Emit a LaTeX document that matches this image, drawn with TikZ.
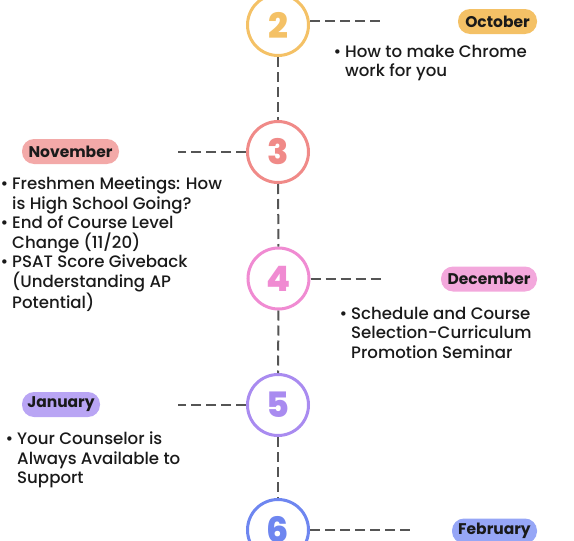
\documentclass[tikz,border=0pt]{standalone}
\usepackage{fontspec}
\setmainfont{Poppins}[UprightFont={* Medium}, BoldFont={* Bold}]
\newfontfamily\numfont{Poppins}[UprightFont={* ExtraBold}]
\definecolor{txt}{HTML}{1A1A1A}
\definecolor{dashc}{HTML}{555555}
\definecolor{oct}{HTML}{F4C166}
\definecolor{octpill}{HTML}{F4C166}
\definecolor{nov}{HTML}{F08A88}
\definecolor{novpill}{HTML}{F3A9A8}
\definecolor{dec}{HTML}{F08BD2}
\definecolor{decpill}{HTML}{F3A8DC}
\definecolor{jan}{HTML}{A98BF0}
\definecolor{janpill}{HTML}{B9A5F4}
\definecolor{feb}{HTML}{6E86F0}
\definecolor{febpill}{HTML}{96A6F6}
\tikzset{
  stepcirc/.style={circle, draw=#1, line width=3pt, fill=white, minimum size=61pt, inner sep=0pt,
    text=#1, font=\fontsize{35}{35}\selectfont\numfont},
  pill/.style={rounded corners=12pt, fill=#1, minimum height=25pt, inner sep=0pt,
    text=txt, font=\fontsize{15.5}{15.5}\selectfont\bfseries},
  conn/.style={dashc, line width=2pt, dash pattern=on 10pt off 5pt},
  itemlist/.style={anchor=north west, inner sep=0pt, text=txt, align=left,
    font=\fontsize{16.6}{19.5}\selectfont},
}
\newcommand{\itm}{\makebox[12pt][l]{\hspace{0.5pt}\textbullet}}
\newcommand{\ind}{\hspace*{12pt}}
\begin{document}
\begin{tikzpicture}[x=1pt,y=-1pt]
\useasboundingbox (0,0) rectangle (574,541);
% circles
\node[stepcirc=oct] (c2) at (278,25) {2};
\node[stepcirc=nov] (c3) at (278,152) {3};
\node[stepcirc=dec] (c4) at (278.5,278.5) {4};
\node[stepcirc=jan] (c5) at (278,405) {5};
\node[stepcirc=feb] (c6) at (278,530) {6};
% vertical connectors
\draw[conn] (c2.south) -- (c3.north);
\draw[conn] (c3.south) -- (c4.north);
\draw[conn] (c4.south) -- (c5.north);
\draw[conn] (c5.south) -- (c6.north);
% horizontal connectors
\coordinate (e2) at (383,21);
\coordinate (e3) at (178,152);
\coordinate (e4) at (383,279);
\coordinate (e5) at (178,405);
\coordinate (e6) at (410,530);
\draw[conn] (c2.east |- e2) -- (e2);
\draw[conn] (c3.west) -- (e3);
\draw[conn] (c4.east |- e4) -- (e4);
\draw[conn] (c5.west) -- (e5);
\draw[conn] (c6.east) -- (e6);
% pills
\node[pill=octpill, minimum width=79pt] (p2) at (497.5,21.5) {October};
\node[pill=novpill, minimum width=97pt] (p3) at (70.5,151.5) {November};
\node[pill=decpill, minimum width=96pt] (p4) at (489,279) {December};
\node[pill=janpill, minimum width=78pt] (p5) at (61,404.5) {January};
\node[pill=febpill, minimum width=85pt] (p6) at (494.5,531) {February};
% lists
\node[itemlist] (l2) at (333,45) {\itm How to make Chrome\\\ind work for you};
\node[itemlist] (l3) at (0,177) {\itm Freshmen Meetings: How\\\ind is High School Going?\\\itm End of Course Level\\\ind Change (11/20)\\\itm PSAT Score Giveback\\\ind (Understanding AP\\\ind Potential)};
\node[itemlist] (l4) at (339,307) {\itm Schedule and Course\\\ind Selection-Curriculum\\\ind Promotion Seminar};
\node[itemlist] (l5) at (5,432) {\itm Your Counselor is\\\ind Always Available to\\\ind Support};
\end{tikzpicture}
\end{document}
